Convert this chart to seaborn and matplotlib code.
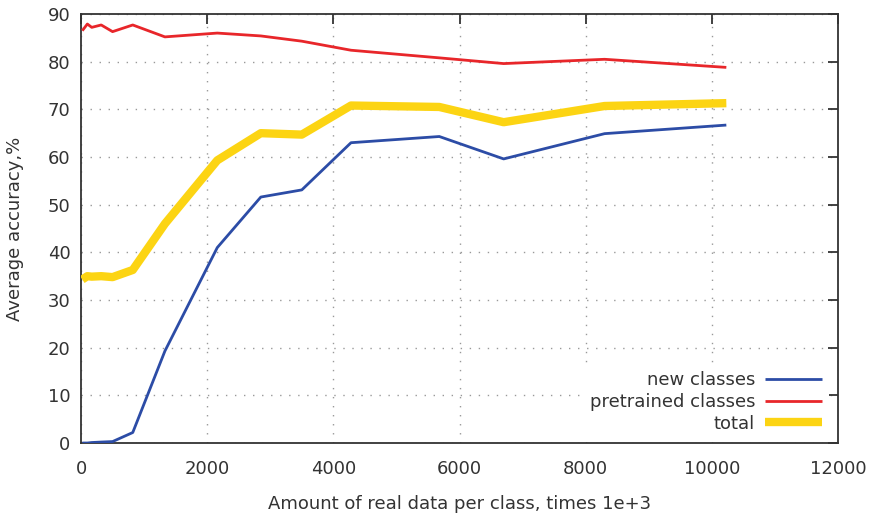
import matplotlib
matplotlib.use("Agg")
import matplotlib.pyplot as plt
import seaborn as sns
import pandas as pd

sns.set_theme(style="white")
plt.rcParams['font.family'] = ['DejaVu Sans']
plt.rcParams['lines.solid_capstyle'] = 'butt'

x_data = [20, 100, 170, 320, 500, 820, 1330, 2160, 2850, 3500, 4280, 5680, 6700, 8300, 10230]
new_classes = [0.0, 0.0, 0.1, 0.2, 0.3, 2.2, 19.3, 41.0, 51.6, 53.1, 63.0, 64.3, 59.6, 64.9, 66.7]
pretrained_classes = [86.5, 87.9, 87.2, 87.7, 86.3, 87.7, 85.2, 86.0, 85.4, 84.3, 82.4, 80.8, 79.6, 80.5, 78.8]
total = [34.3, 35.0, 34.9, 35.0, 34.8, 36.3, 46.0, 59.3, 65.0, 64.7, 70.8, 70.5, 67.3, 70.7, 71.3]

series_names = ["new classes", "pretrained classes", "total"]
colors = ["#2c4ca6", "#e8262a", "#fcd413"]
widths = [2.0, 2.0, 6.0]

fig = plt.figure(figsize=(8.76, 5.15), dpi=100)
ax = fig.add_axes([0.0925, 0.1398, 0.8641, 0.8330])

for name, vals, c, w in zip(series_names, [new_classes, pretrained_classes, total], colors, widths):
    df = pd.DataFrame({"x": x_data, "y": vals})
    sns.lineplot(data=df, x="x", y="y", ax=ax, color=c, linewidth=w, label=name, zorder=3)

ax.set_xlim(0, 12000)
ax.set_ylim(0, 90)
ax.set_xticks(range(0, 12001, 2000))
ax.set_yticks(range(0, 91, 10))
ax.grid(True, color="#999999", linestyle=(0, (1, 5.5)), linewidth=1.0, zorder=0)
ax.set_axisbelow(True)
for s in ax.spines.values():
    s.set_color("#333333")
    s.set_linewidth(1.3)
    s.set_visible(True)
ax.tick_params(direction="in", length=7.2, width=1.3, color="#333333",
               top=True, right=True, labelsize=13, labelcolor="#333333")
ax.tick_params(axis="x", pad=12.5)
ax.tick_params(axis="y", pad=7.5)
ax.set_xlabel("Amount of real data per class, times 1e+3", fontsize=13, color="#333333", labelpad=12)
ax.set_ylabel("Average accuracy,%", fontsize=13, color="#333333", labelpad=17)

leg = ax.legend(loc="lower right", bbox_to_anchor=(0.9884, 0.0075), frameon=True, markerfirst=False,
                fontsize=13, handlelength=3.15, borderaxespad=0.0, labelspacing=0.2,
                handletextpad=0.55, borderpad=0.4)
leg.get_frame().set_facecolor("white")
leg.get_frame().set_edgecolor("none")
leg.get_frame().set_alpha(1.0)
for t in leg.get_texts():
    t.set_color("#333333")
leg.set_zorder(5)

fig.savefig("out.png", dpi=100)
